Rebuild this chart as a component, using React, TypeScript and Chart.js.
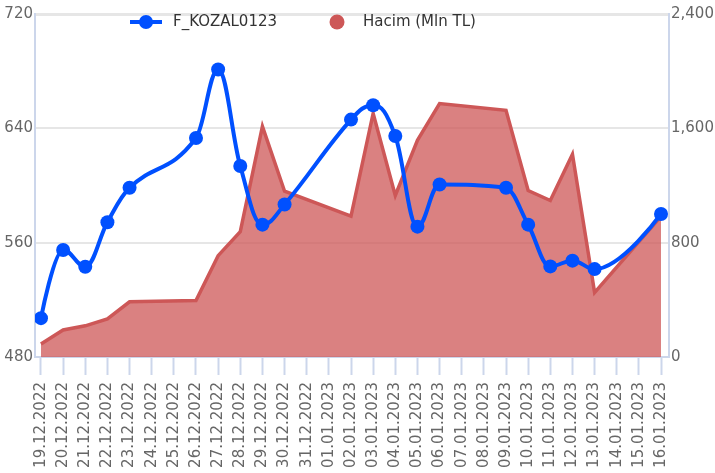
import React, { useEffect, useRef } from "react";
import { Chart, registerables } from "chart.js";

Chart.register(...registerables);

const categories = [
  "19.12.2022", "20.12.2022", "21.12.2022", "22.12.2022", "23.12.2022", "24.12.2022", "25.12.2022",
  "26.12.2022", "27.12.2022", "28.12.2022", "29.12.2022", "30.12.2022", "31.12.2022", "01.01.2023",
  "02.01.2023", "03.01.2023", "04.01.2023", "05.01.2023", "06.01.2023", "07.01.2023", "08.01.2023",
  "09.01.2023", "10.01.2023", "11.01.2023", "12.01.2023", "13.01.2023", "14.01.2023", "15.01.2023",
  "16.01.2023",
];

const priceValues: (number | null)[] = [
  507.2, 554.9, 543.2, 574.3, 598.4, null, null,
  633.2, 681.2, 613.6, 572.6, 586.7, null, null,
  646.1, 656.1, 634.6, 571.2, 600.7, null, null,
  598.4, 572.6, 543.4, 547.4, 541.5, null, null,
  580.1,
];

const volumeValues: (number | null)[] = [
  91, 189, 218, 267, 386, null, null,
  396, 709, 877, 1614, 1160, null, null,
  985, 1705, 1130, 1516, 1773, null, null,
  1726, 1165, 1095, 1418, 451, null, null,
  985,
];

const leftTicks = [480, 560, 640, 720];
const rightTicks = [0, 800, 1600, 2400];

const priceLabel = "F_KOZAL0123";
const volumeLabel = "Hacim (Mln TL)";

const BLUE = "#0050ff";
const RED = "#cd5757";
const FONT = "'DejaVu Sans', sans-serif";

const toPoints = (vals: (number | null)[]) =>
  vals
    .map((v, i) => (v === null ? null : { x: i, y: v }))
    .filter((p) => p !== null) as { x: number; y: number }[];

// Spline control points in the style of a "spline" series (smoothing 1.5, flat at extremes)
const splinePlugin = {
  id: "splineControl",
  afterDatasetsUpdate(chart: any) {
    const meta = chart.getDatasetMeta(0);
    const pts = meta.data as any[];
    if (!pts || !pts.length) return;
    if (meta.dataset && meta.dataset.updateControlPoints) {
      meta.dataset.updateControlPoints(chart.chartArea, "x");
    }
    const s = 1.5;
    const d = s + 1;
    for (let i = 0; i < pts.length; i++) {
      const p = pts[i];
      const prev = pts[i - 1];
      const next = pts[i + 1];
      if (!prev || !next) {
        p.cp1x = p.x; p.cp1y = p.y; p.cp2x = p.x; p.cp2y = p.y;
        continue;
      }
      const lx = (s * p.x + prev.x) / d;
      let ly = (s * p.y + prev.y) / d;
      const rx = (s * p.x + next.x) / d;
      let ry = (s * p.y + next.y) / d;
      let corr = 0;
      if (rx !== lx) corr = ((ry - ly) * (rx - p.x)) / (rx - lx) + p.y - ry;
      ly += corr;
      ry += corr;
      if (ly > prev.y && ly > p.y) {
        ly = Math.max(prev.y, p.y);
        ry = 2 * p.y - ly;
      } else if (ly < prev.y && ly < p.y) {
        ly = Math.min(prev.y, p.y);
        ry = 2 * p.y - ly;
      }
      if (ry > next.y && ry > p.y) {
        ry = Math.max(next.y, p.y);
        ly = 2 * p.y - ry;
      } else if (ry < next.y && ry < p.y) {
        ry = Math.min(next.y, p.y);
        ly = 2 * p.y - ry;
      }
      p.cp1x = lx; p.cp1y = ly; p.cp2x = rx; p.cp2y = ry;
    }
  },
};

const legendPlugin = {
  id: "customLegend",
  afterDraw(chart: any) {
    const ctx = chart.ctx;
    const y = 22;
    ctx.save();
    ctx.strokeStyle = BLUE;
    ctx.lineWidth = 4;
    ctx.beginPath();
    ctx.moveTo(130, y);
    ctx.lineTo(162, y);
    ctx.stroke();
    ctx.fillStyle = BLUE;
    ctx.beginPath();
    ctx.arc(146, y, 7, 0, Math.PI * 2);
    ctx.fill();
    ctx.font = "15px " + FONT;
    ctx.fillStyle = "#333333";
    ctx.textBaseline = "middle";
    ctx.textAlign = "left";
    ctx.fillText(priceLabel, 173, y);
    ctx.fillStyle = RED;
    ctx.beginPath();
    ctx.arc(337, y, 7.5, 0, Math.PI * 2);
    ctx.fill();
    ctx.fillStyle = "#333333";
    ctx.fillText(volumeLabel, 363, y);
    ctx.restore();
  },
};

export default function App() {
  const ref = useRef<HTMLCanvasElement | null>(null);

  useEffect(() => {
    document.body.style.margin = "0";
    if (!ref.current) return;
    const chart = new Chart(ref.current, {
      type: "line",
      data: {
        datasets: [
          {
            label: priceLabel,
            data: toPoints(priceValues),
            yAxisID: "y",
            borderColor: BLUE,
            backgroundColor: BLUE,
            borderWidth: 4,
            pointRadius: 7,
            pointBackgroundColor: BLUE,
            pointBorderWidth: 0,
            tension: 0.3,
            fill: false,
            order: 0,
          },
          {
            label: volumeLabel,
            data: toPoints(volumeValues),
            yAxisID: "y1",
            borderColor: RED,
            backgroundColor: "rgba(205, 87, 87, 0.75)",
            borderWidth: 3.5,
            pointRadius: 0,
            tension: 0,
            fill: "origin",
            order: 1,
          },
        ],
      },
      options: {
        responsive: false,
        animation: false,
        layout: { padding: { top: 14, left: 0, right: 0, bottom: 0 } },
        plugins: { legend: { display: false }, tooltip: { enabled: false } },
        scales: {
          x: {
            type: "linear",
            min: -0.27,
            max: 28.36,
            afterBuildTicks: (axis: any) => {
              axis.ticks = categories.map((_, i) => ({ value: i }));
            },
            afterFit: (scale: any) => {
              scale.height = 116;
            },
            ticks: {
              autoSkip: false,
              maxRotation: 90,
              minRotation: 90,
              padding: 7,
              color: "#666666",
              font: { family: FONT, size: 15 },
              callback: (v: any) => categories[v as number] ?? "",
            },
            grid: {
              drawOnChartArea: false,
              drawTicks: true,
              tickLength: 18,
              tickColor: "#ccd6eb",
              tickWidth: 2,
            },
            border: { color: "#ccd6eb", width: 2 },
          },
          y: {
            position: "left",
            min: 480,
            max: 720,
            afterBuildTicks: (axis: any) => {
              axis.ticks = leftTicks.map((v) => ({ value: v }));
            },
            afterFit: (scale: any) => {
              scale.width = 35;
            },
            ticks: {
              padding: 2,
              color: "#666666",
              font: { family: FONT, size: 15 },
            },
            grid: {
              drawTicks: false,
              color: "#e6e6e6",
              lineWidth: (c: any) => (c.tick && c.tick.value === 720 ? 3 : 2),
            },
            border: { color: "#ccd6eb", width: 2 },
          },
          y1: {
            position: "right",
            min: 0,
            max: 2400,
            afterBuildTicks: (axis: any) => {
              axis.ticks = rightTicks.map((v) => ({ value: v }));
            },
            afterFit: (scale: any) => {
              scale.width = 46;
            },
            ticks: {
              padding: 2,
              color: "#666666",
              font: { family: FONT, size: 15 },
              callback: (v: any) => Number(v).toLocaleString("en-US"),
            },
            grid: { drawOnChartArea: false, drawTicks: false },
            border: { color: "#ccd6eb", width: 2 },
          },
        },
      },
      plugins: [splinePlugin, legendPlugin],
    } as any);
    return () => chart.destroy();
  }, []);

  return (
    <div style={{ width: 715, height: 473 }}>
      <canvas ref={ref} width={715} height={473} />
    </div>
  );
}
